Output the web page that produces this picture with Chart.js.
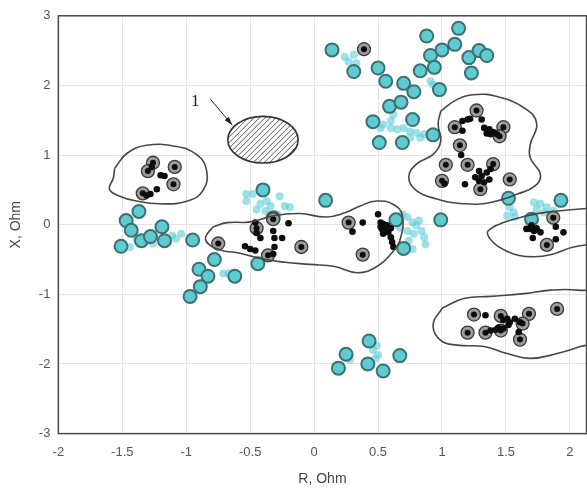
<!DOCTYPE html>
<html>
<head>
<meta charset="utf-8">
<script src="https://cdn.jsdelivr.net/npm/chart.js@4"></script>
<style>
  html, body { margin: 0; padding: 0; background: #fff; overflow: hidden; width: 587px; height: 488px; }
  #wrap { width: 595px; height: 488px; }
</style>
</head>
<body>
<div id="wrap"><canvas id="chart"></canvas></div>
<script>
// measured points, [R, X] in Ohm
const cyanCircles = [
  [-1.37, 0.19], [-1.47, 0.06], [-1.43, -0.08], [-1.51, -0.31], [-1.35, -0.23], [-1.28, -0.17],
  [-1.19, -0.03], [-1.17, -0.23], [-0.95, -0.22], [-0.78, -0.50], [-0.90, -0.64], [-0.83, -0.74],
  [-0.62, -0.74], [-0.89, -0.89], [-0.97, -1.03], [-0.40, 0.50], [0.09, 0.35], [-0.32, 0.10],
  [-0.44, -0.56], [0.64, 0.07], [0.70, -0.34], [0.99, 0.07], [1.52, 0.38], [1.93, 0.35], [1.70, 0.08],
  [0.43, -1.67], [0.25, -1.86], [0.19, -2.06], [0.42, -2.00], [0.54, -2.10], [0.67, -1.88],
  [0.14, 2.51], [0.31, 2.20], [0.50, 2.25], [0.56, 2.06], [0.70, 2.03], [0.78, 1.91], [0.88, 2.71],
  [1.13, 2.82], [1.10, 2.59], [1.00, 2.51], [0.91, 2.43], [0.83, 2.21], [0.94, 2.26], [1.21, 2.40],
  [1.29, 2.50], [1.35, 2.43], [1.23, 2.18], [0.98, 1.94], [0.59, 1.70], [0.68, 1.76], [0.46, 1.48],
  [0.77, 1.51], [0.51, 1.18], [0.69, 1.18], [0.93, 1.29]
];
const cyanDots = [
  [-1.44, -0.32], [-1.39, -0.21], [-1.11, -0.16], [-1.04, -0.13], [-1.08, -0.20], [-0.71, -0.70],
  [-0.67, -0.70], [-1.42, -0.11], [-1.26, -0.27],
  [-0.53, 0.34], [-0.48, 0.44], [-0.42, 0.30], [-0.37, 0.34], [-0.38, 0.20], [-0.27, 0.41],
  [-0.23, 0.27], [-0.19, 0.25], [-0.34, 0.27], [-0.45, 0.22], [-0.29, 0.15], [-0.53, 0.44],
  [0.69, 0.15], [0.73, 0.11], [0.77, 0.03], [0.80, -0.01], [0.84, -0.09], [0.73, -0.09], [0.78, -0.13],
  [0.87, -0.28], [0.77, -0.35], [0.82, 0.06], [0.67, -0.04], [0.74, -0.23], [0.86, -0.18],
  [1.53, 0.25], [1.56, 0.18], [1.51, 0.13], [1.57, 0.11], [1.72, 0.32], [1.77, 0.30], [1.82, 0.25],
  [1.87, 0.20], [1.80, 0.18], [1.74, 0.22],
  [0.46, -1.80], [0.50, -1.87], [0.48, -1.92], [0.28, -1.94], [0.49, -1.74],
  [0.24, 2.41], [0.31, 2.44], [0.33, 2.32], [0.27, 2.34], [0.91, 2.06], [0.93, 2.01],
  [0.54, 1.44], [0.60, 1.39], [0.65, 1.37], [0.70, 1.39], [0.75, 1.34], [0.80, 1.32], [0.86, 1.30],
  [0.83, 1.25], [0.75, 1.25], [0.60, 1.49], [0.52, 1.39], [0.62, 1.58]
];
const ringedPoints = [
  [-1.26, 0.89], [-1.30, 0.77], [-1.09, 0.83], [-1.10, 0.58], [-1.34, 0.45],
  [-0.75, -0.27], [-0.45, -0.05], [-0.36, -0.44], [-0.32, 0.08], [-0.10, -0.32], [0.27, 0.03], [0.38, -0.43],
  [1.27, 1.64], [1.10, 1.40], [1.48, 1.40], [1.45, 1.27], [1.14, 1.14], [1.03, 0.86], [1.20, 0.86],
  [1.40, 0.87], [1.00, 0.63], [1.30, 0.51], [1.53, 0.65],
  [1.87, 0.10], [1.82, -0.29],
  [1.25, -1.29], [1.20, -1.55], [1.34, -1.55], [1.46, -1.31], [1.46, -1.52], [1.68, -1.28],
  [1.63, -1.42], [1.61, -1.65], [1.90, -1.21],
  [0.39, 2.52]
];
const blackDots = [
  [-1.27, 0.83], [-1.20, 0.71], [-1.17, 0.70], [-1.31, 0.42], [-1.28, 0.44], [-1.23, 0.51],
  [-0.46, 0.03], [-0.45, -0.12], [-0.42, -0.19], [-0.54, -0.31], [-0.50, -0.35], [-0.46, -0.37],
  [-0.32, -0.09], [-0.31, -0.19], [-0.25, -0.19], [-0.31, -0.32], [-0.32, -0.42], [-0.20, 0.02],
  [0.38, 0.03], [0.30, -0.10], [0.50, 0.15], [0.52, 0.03], [0.54, 0.01], [0.53, -0.06], [0.56, -0.09],
  [0.58, -0.11], [0.54, -0.13], [0.60, -0.18], [0.61, -0.25], [0.62, -0.32], [0.57, -0.01], [0.60, -0.05],
  [0.52, -0.03],
  [1.16, 1.49], [1.20, 1.51], [1.22, 1.52], [1.16, 1.35], [1.31, 1.51], [1.33, 1.39], [1.37, 1.37],
  [1.40, 1.33], [1.43, 1.30], [1.38, 1.30], [1.35, 1.31], [1.15, 1.00], [1.38, 0.80], [1.35, 0.75],
  [1.31, 0.70], [1.29, 0.77], [1.26, 0.68], [1.29, 0.63], [1.33, 0.61], [1.02, 0.59], [1.18, 0.58],
  [1.37, 0.65],
  [1.66, -0.06], [1.69, -0.06], [1.72, -0.09], [1.77, -0.11], [1.70, -0.01], [1.74, -0.05], [1.89, -0.03],
  [1.95, -0.11], [1.89, -0.21], [1.71, -0.19],
  [1.34, -1.30], [1.38, -1.52], [1.42, -1.51], [1.44, -1.48], [1.48, -1.37], [1.51, -1.35], [1.53, -1.40],
  [1.57, -1.35], [1.61, -1.40], [1.52, -1.44], [1.48, -1.49], [1.60, -1.54]
];

// closed boundaries
const contourLeft = [
  [-1.56, 0.81], [-1.46, 1.03], [-1.31, 1.14], [-1.10, 1.13], [-0.92, 1.01], [-0.84, 0.77],
  [-0.87, 0.49], [-0.99, 0.34], [-1.21, 0.30], [-1.39, 0.34], [-1.52, 0.41], [-1.60, 0.51],
  [-1.57, 0.67], [-1.56, 0.81]
];
const contourCenter = [
  [-0.79, -0.03], [-0.68, 0.03], [-0.50, 0.04], [-0.31, 0.13], [-0.11, 0.16], [0.09, 0.11],
  [0.24, 0.17], [0.36, 0.27], [0.49, 0.34], [0.62, 0.29], [0.69, 0.13], [0.67, -0.23], [0.61, -0.40],
  [0.50, -0.59], [0.34, -0.69], [0.16, -0.60], [-0.03, -0.57], [-0.23, -0.54], [-0.41, -0.49],
  [-0.58, -0.41], [-0.72, -0.37], [-0.81, -0.30], [-0.85, -0.19], [-0.79, -0.03]
];
const contourUpper = [
  [0.99, 1.63], [1.12, 1.80], [1.27, 1.87], [1.43, 1.84], [1.64, 1.68], [1.74, 1.46], [1.69, 1.15],
  [1.69, 0.96], [1.77, 0.72], [1.73, 0.56], [1.59, 0.44], [1.38, 0.32], [1.17, 0.30], [0.96, 0.37],
  [0.80, 0.49], [0.74, 0.68], [0.80, 0.87], [0.93, 1.01], [0.99, 1.20], [0.97, 1.44], [0.99, 1.63]
];
const contourRight = [
  [2.35, 0.26], [1.98, 0.21], [1.82, 0.18], [1.67, 0.13], [1.48, 0.03], [1.36, -0.09], [1.37, -0.19],
  [1.43, -0.30], [1.56, -0.42], [1.72, -0.46], [1.87, -0.42], [2.03, -0.32], [2.35, -0.24]
];
const contourLower = [
  [1.00, -1.20], [1.17, -1.06], [1.38, -1.03], [1.64, -0.99], [1.85, -0.94], [2.06, -0.94],
  [2.30, -1.02], [2.30, -1.62], [2.08, -1.75], [1.90, -1.85], [1.69, -1.92], [1.51, -1.85],
  [1.33, -1.75], [1.12, -1.73], [0.99, -1.66], [0.93, -1.44], [1.00, -1.20]
];

// hatched zone "1": centre, half axes, label and arrow (Ohm)
const zoneCenter = [-0.40, 1.22];
const zoneRadii = [0.275, 0.335];
const zoneLabel = [-0.93, 1.77];
const zoneArrow = [[-0.81, 1.80], [-0.64, 1.43]];

const xTitle = 'R, Ohm';
const yTitle = 'X, Ohm';

const pts = arr => arr.map(p => ({ x: p[0], y: p[1] }));
const lineColor = '#474747';

const contourSet = arr => ({
  type: 'line',
  data: pts(arr),
  showLine: true,
  borderColor: lineColor,
  borderWidth: 1.6,
  tension: 0.45,
  pointRadius: 0,
  fill: false,
  order: 0
});

const framePlugin = {
  id: 'frame',
  beforeDatasetsDraw(chart) {
    const { ctx, chartArea: a, scales: { x, y } } = chart;
    ctx.save();
    ctx.beginPath();
    ctx.rect(a.left, a.top, a.right - a.left, a.bottom - a.top);
    ctx.clip();
    // zone 1
    const cx = x.getPixelForValue(zoneCenter[0]);
    const cy = y.getPixelForValue(zoneCenter[1]);
    const rx = Math.abs(x.getPixelForValue(zoneCenter[0] + zoneRadii[0]) - cx);
    const ry = Math.abs(y.getPixelForValue(zoneCenter[1] + zoneRadii[1]) - cy);
    ctx.beginPath();
    ctx.ellipse(cx, cy, rx, ry, 0, 0, Math.PI * 2);
    ctx.fillStyle = '#fff';
    ctx.fill();
    ctx.save();
    ctx.clip();
    ctx.strokeStyle = '#555';
    ctx.lineWidth = 1;
    ctx.beginPath();
    for (let d = -rx - ry; d < rx + ry; d += 5.5) {
      ctx.moveTo(cx + d - ry, cy + ry);
      ctx.lineTo(cx + d + ry, cy - ry);
    }
    ctx.stroke();
    ctx.restore();
    ctx.beginPath();
    ctx.ellipse(cx, cy, rx, ry, 0, 0, Math.PI * 2);
    ctx.strokeStyle = '#333';
    ctx.lineWidth = 1.6;
    ctx.stroke();
    // label and arrow
    const x0 = x.getPixelForValue(zoneArrow[0][0]), y0 = y.getPixelForValue(zoneArrow[0][1]);
    const x1 = x.getPixelForValue(zoneArrow[1][0]), y1 = y.getPixelForValue(zoneArrow[1][1]);
    ctx.strokeStyle = '#222';
    ctx.lineWidth = 1;
    ctx.beginPath();
    ctx.moveTo(x0, y0);
    ctx.lineTo(x1, y1);
    ctx.stroke();
    const ang = Math.atan2(y1 - y0, x1 - x0);
    ctx.beginPath();
    ctx.moveTo(x1, y1);
    ctx.lineTo(x1 - 9 * Math.cos(ang - 0.3), y1 - 9 * Math.sin(ang - 0.3));
    ctx.lineTo(x1 - 9 * Math.cos(ang + 0.3), y1 - 9 * Math.sin(ang + 0.3));
    ctx.closePath();
    ctx.fillStyle = '#222';
    ctx.fill();
    ctx.fillStyle = '#222';
    ctx.font = '17px "Liberation Serif", serif';
    ctx.textAlign = 'center';
    ctx.textBaseline = 'middle';
    ctx.fillText('1', x.getPixelForValue(zoneLabel[0]), y.getPixelForValue(zoneLabel[1]));
    ctx.restore();
  },
  afterDraw(chart) {
    const { ctx, chartArea: a } = chart;
    ctx.save();
    ctx.strokeStyle = '#4a4a4a';
    ctx.lineWidth = 1.5;
    ctx.strokeRect(a.left, a.top, a.right - a.left, a.bottom - a.top);
    ctx.restore();
  }
};

Chart.defaults.font.family = '"Liberation Sans", Arial, sans-serif';

new Chart(document.getElementById('chart'), {
  type: 'scatter',
  data: {
    datasets: [
      contourSet(contourLeft),
      contourSet(contourCenter),
      contourSet(contourUpper),
      contourSet(contourRight),
      contourSet(contourLower),
      {
        data: pts(ringedPoints),
        pointRadius: 3,
        pointBackgroundColor: '#0d0d0d',
        pointBorderWidth: 0,
        order: 1
      },
      {
        data: pts(blackDots),
        pointRadius: 3.3,
        pointBackgroundColor: '#0d0d0d',
        pointBorderWidth: 0,
        order: 2
      },
      {
        data: pts(ringedPoints),
        pointRadius: 6.5,
        pointBackgroundColor: '#9c9c9c',
        pointBorderColor: '#3a3a3a',
        pointBorderWidth: 1.3,
        order: 3
      },
      {
        data: pts(cyanCircles),
        pointRadius: 6.5,
        pointBackgroundColor: '#5ecbd1',
        pointBorderColor: '#3c7073',
        pointBorderWidth: 2,
        order: 4
      },
      {
        data: pts(cyanDots),
        pointRadius: 4,
        pointBackgroundColor: 'rgba(92, 204, 214, 0.6)',
        pointBorderWidth: 0,
        order: 5
      }
    ]
  },
  options: {
    responsive: true,
    maintainAspectRatio: false,
    animation: false,
    events: [],
    layout: { padding: { top: 4, right: 1, left: 8, bottom: 0 } },
    plugins: {
      legend: { display: false },
      tooltip: { enabled: false }
    },
    scales: {
      x: {
        type: 'linear',
        min: -2,
        max: 2.13,
        border: { display: false },
        grid: { color: '#e4e4e4', drawTicks: false },
        ticks: {
          stepSize: 0.5,
          includeBounds: false,
          color: '#555',
          font: { size: 13 },
          padding: 11,
          callback: v => String(v)
        },
        title: { display: true, text: xTitle, color: '#444', font: { size: 14 }, padding: { top: 0, bottom: 0 } }
      },
      y: {
        type: 'linear',
        min: -3,
        max: 3,
        border: { display: false },
        grid: { color: '#e4e4e4', drawTicks: false },
        ticks: {
          stepSize: 1,
          color: '#555',
          font: { size: 13 },
          padding: 8,
          callback: v => String(v)
        },
        title: { display: true, text: yTitle, color: '#444', font: { size: 14 }, padding: { top: 0, bottom: 6 } }
      }
    }
  },
  plugins: [framePlugin]
});
</script>
</body>
</html>
